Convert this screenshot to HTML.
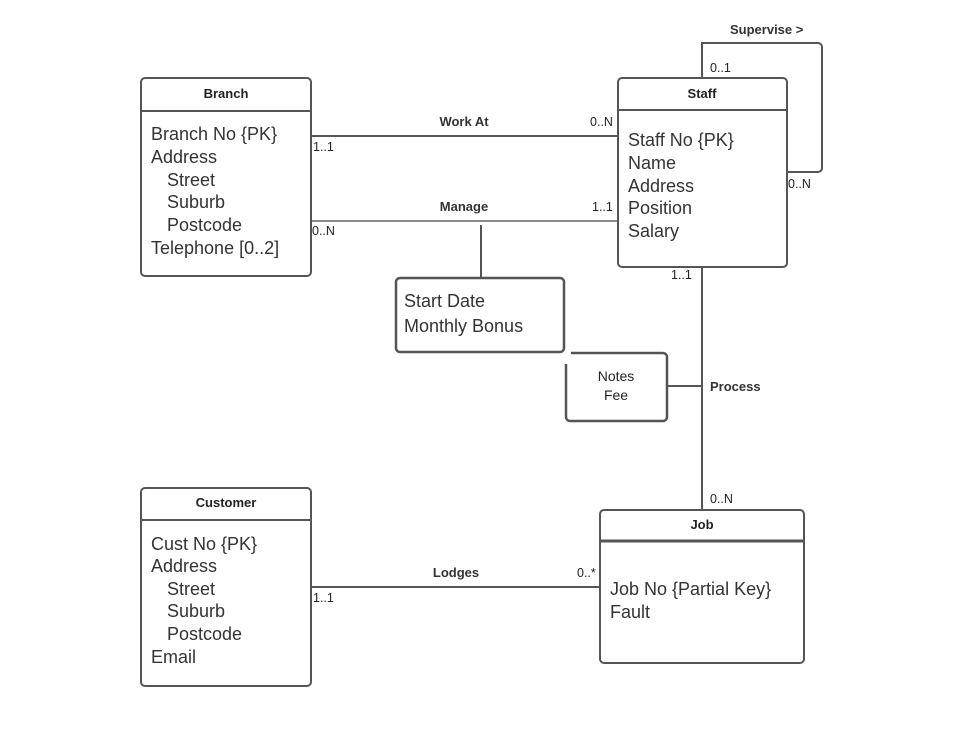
<!DOCTYPE html>
<html><head><meta charset="utf-8"><style>
html,body{margin:0;padding:0;background:#fff;}
svg{display:block;font-family:"Liberation Sans",Arial,sans-serif;}
.a{font-size:18px;fill:#333;}
.t{font-size:13px;font-weight:bold;fill:#222;}
.c{font-size:12.5px;fill:#222;}
.l{font-size:13px;font-weight:bold;fill:#333;}
</style></head><body>
<svg width="972" height="738" viewBox="0 0 972 738">
<g fill="none" stroke="#555" stroke-width="2">
<path d="M311 136H618"/>
<path d="M311 221H618" stroke="#666" stroke-width="1.5"/>
<path d="M481 225V278"/>
<path d="M702 78V43H818a4 4 0 0 1 4 4V168a4 4 0 0 1-4 4H787"/>
<path d="M702 267V510"/>
<path d="M667 386H702"/>
<path d="M311 587H600"/>
<rect x="141" y="78" width="170" height="198" rx="4"/>
<path d="M141 111H311"/>
<rect x="618" y="78" width="169" height="189" rx="4"/>
<path d="M618 110H787"/>
<rect x="141" y="488" width="170" height="198" rx="4"/>
<path d="M141 520H311"/>
<rect x="600" y="510" width="204" height="153" rx="4"/>
<path d="M600 541H804" stroke-width="3"/>
<rect x="396" y="278" width="168" height="74" rx="4" stroke-width="2.5"/>
<path d="M571 353H663a4 4 0 0 1 4 4V417a4 4 0 0 1-4 4H570a4 4 0 0 1-4-4V364" stroke-width="2.5"/>
</g>
<text class="t" x="226" y="98" text-anchor="middle">Branch</text>
<text class="a" x="151" y="140">Branch No {PK}</text>
<text class="a" x="151" y="163">Address</text>
<text class="a" x="167" y="186">Street</text>
<text class="a" x="167" y="208">Suburb</text>
<text class="a" x="167" y="231">Postcode</text>
<text class="a" x="151" y="254">Telephone [0..2]</text>

<text class="t" x="702" y="98" text-anchor="middle">Staff</text>
<text class="a" x="628" y="146">Staff No {PK}</text>
<text class="a" x="628" y="169">Name</text>
<text class="a" x="628" y="192">Address</text>
<text class="a" x="628" y="214">Position</text>
<text class="a" x="628" y="237">Salary</text>

<text class="t" x="226" y="507" text-anchor="middle">Customer</text>
<text class="a" x="151" y="550">Cust No {PK}</text>
<text class="a" x="151" y="572">Address</text>
<text class="a" x="167" y="595">Street</text>
<text class="a" x="167" y="617">Suburb</text>
<text class="a" x="167" y="640">Postcode</text>
<text class="a" x="151" y="663">Email</text>

<text class="t" x="702" y="529" text-anchor="middle">Job</text>
<text class="a" x="610" y="595">Job No {Partial Key}</text>
<text class="a" x="610" y="618">Fault</text>

<text class="a" x="404" y="307">Start Date</text>
<text class="a" x="404" y="332">Monthly Bonus</text>
<text class="c" x="616" y="381" text-anchor="middle" style="font-size:14px">Notes</text>
<text class="c" x="616" y="400" text-anchor="middle" style="font-size:14px">Fee</text>

<text class="l" x="464" y="126" text-anchor="middle">Work At</text>
<text class="l" x="464" y="211" text-anchor="middle">Manage</text>
<text class="l" x="456" y="577" text-anchor="middle">Lodges</text>
<text class="l" x="710" y="391">Process</text>
<text class="l" x="730" y="34">Supervise &gt;</text>

<text class="c" x="313" y="151">1..1</text>
<text class="c" x="590" y="126">0..N</text>
<text class="c" x="312" y="235">0..N</text>
<text class="c" x="592" y="211">1..1</text>
<text class="c" x="710" y="72">0..1</text>
<text class="c" x="788" y="188">0..N</text>
<text class="c" x="671" y="279">1..1</text>
<text class="c" x="710" y="503">0..N</text>
<text class="c" x="313" y="602">1..1</text>
<text class="c" x="577" y="577">0..*</text>
</svg>
</body></html>
